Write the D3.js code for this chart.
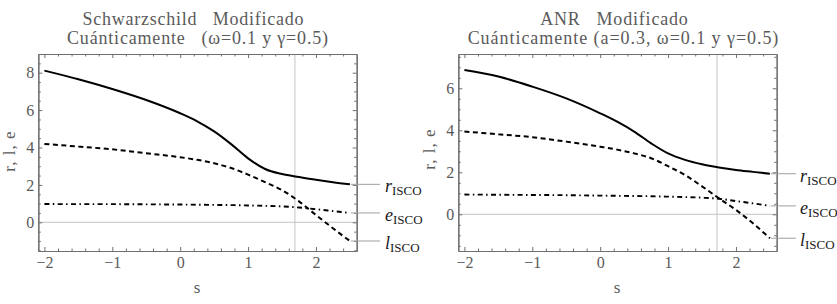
<!DOCTYPE html>
<html>
<head>
<meta charset="utf-8">
<script src="https://cdn.jsdelivr.net/npm/d3@7"></script>
<style>
  html, body { margin: 0; padding: 0; background: #fff; }
  svg { display: block; }
  text { white-space: pre; }
</style>
</head>
<body>
<div id="chart"></div>
<script>
// ── Layout constants (837×304 canvas)
const W = 837, H = 304;
const SERIF = '"Liberation Serif", "Times New Roman", serif';
const TEXT_GRAY = '#5a5a5a';
const FRAME_GRAY = '#707070';

// ── Data
const sValues = [-2, -1.5, -1, -0.5, 0, 0.25, 0.5, 0.75, 1, 1.25, 1.5, 1.75, 2, 2.25, 2.5];

const rSchw = [8.11, 7.65, 7.13, 6.54, 5.83, 5.40, 4.86, 4.18, 3.42, 2.85, 2.58, 2.42, 2.27, 2.14, 2.03];
const lSchw = [4.19, 4.05, 3.90, 3.69, 3.48, 3.34, 3.16, 2.90, 2.55, 2.15, 1.72, 1.12, 0.39, -0.32, -1.0];
const eSchw = [0.98, 0.97, 0.97, 0.96, 0.95, 0.94, 0.93, 0.92, 0.90, 0.88, 0.85, 0.79, 0.70, 0.60, 0.50];

const rAnr = [6.87, 6.56, 6.08, 5.52, 4.81, 4.41, 3.94, 3.38, 2.90, 2.59, 2.38, 2.23, 2.11, 2.02, 1.93];
const lAnr = [3.94, 3.81, 3.67, 3.46, 3.22, 3.08, 2.90, 2.67, 2.29, 1.87, 1.33, 0.76, 0.21, -0.43, -1.14];
const eAnr = [0.94, 0.93, 0.92, 0.91, 0.89, 0.88, 0.87, 0.86, 0.84, 0.82, 0.79, 0.74, 0.63, 0.52, 0.40];

const xMajorTicks = [-2, -1, 0, 1, 2];
const seriesNames = ['r', 'e', 'l'];
const seriesSub = 'ISCO';

const panels = [
  {
    title: ['Schwarzschild   Modificado', 'Cuánticamente   (ω=0.1 y γ=0.5)'],
    titleX: [193, 197.5],
    titleLen: [221, 261],
    left: 38.3, right: 356.7,
    yDomain: [-1.535, 9.0],
    yMajor: [0, 2, 4, 6, 8],
    gridS: 1.69,
    ylabelY: 151,
    r: rSchw, l: lSchw, e: eSchw,
    labelEnd: 380, labelX: 385,
  },
  {
    title: ['ANR   Modificado', 'Cuánticamente (a=0.3, ω=0.1 y γ=0.5)'],
    titleX: [614, 623],
    titleLen: [147.7, 310.7],
    left: 458.3, right: 776.7,
    yDomain: [-1.748, 7.633],
    yMajor: [0, 2, 4, 6],
    gridS: 1.72,
    ylabelY: 149,
    r: rAnr, l: lAnr, e: eAnr,
    labelEnd: 796, labelX: 800,
  },
];

const TOP = 54, BOTTOM = 251;
const X_DOMAIN = [-2.09, 2.6];

const STYLES = {
  r: { dash: null, width: 2 },
  l: { dash: '5,3.5', width: 2 },
  e: { dash: '5,3.4,1.5,3.4', width: 1.9 },
};

const svg = d3.select('#chart').append('svg')
  .attr('width', W).attr('height', H);

function range(a, b, step) {
  const out = [];
  for (let v = a; v <= b + 1e-9; v += step) out.push(+v.toFixed(4));
  return out;
}

const fmt = d3.format('d');

panels.forEach(p => {
  const g = svg.append('g');
  const x = d3.scaleLinear().domain(X_DOMAIN).range([p.left, p.right]);
  const y = d3.scaleLinear().domain(p.yDomain).range([BOTTOM, TOP]);

  const xMinor = range(-2, 2.4, 0.2).filter(v => !xMajorTicks.includes(v));
  const yMinor = range(-1.5, p.yDomain[1], 0.5).filter(v => !p.yMajor.includes(v));

  // gridlines
  g.append('line')
    .attr('x1', x(p.gridS)).attr('x2', x(p.gridS))
    .attr('y1', TOP).attr('y2', BOTTOM)
    .attr('stroke', '#c4c4c4').attr('stroke-width', 1);
  g.append('line')
    .attr('x1', p.left).attr('x2', p.right)
    .attr('y1', y(0)).attr('y2', y(0))
    .attr('stroke', '#c4c4c4').attr('stroke-width', 1);

  // curves
  const line = d3.line()
    .x((d, i) => x(sValues[i]))
    .y(d => y(d))
    .curve(d3.curveMonotoneX);

  ['r', 'l', 'e'].forEach(k => {
    const st = STYLES[k];
    g.append('path')
      .datum(p[k])
      .attr('d', line)
      .attr('fill', 'none')
      .attr('stroke', '#000')
      .attr('stroke-width', st.width)
      .attr('stroke-dasharray', st.dash);
  });

  // frame axes: inward ticks on all four sides
  const styleAxis = sel => {
    sel.select('.domain').attr('stroke', FRAME_GRAY).attr('stroke-width', 1.2);
    sel.selectAll('.tick line').attr('stroke', FRAME_GRAY);
    sel.selectAll('text')
      .attr('fill', TEXT_GRAY)
      .attr('font-family', SERIF)
      .attr('font-size', '16px');
  };

  g.append('g').attr('transform', `translate(0,${BOTTOM})`)
    .call(d3.axisBottom(x).tickValues(xMajorTicks).tickSize(-4).tickSizeOuter(0).tickPadding(6).tickFormat(fmt))
    .call(styleAxis);
  g.append('g').attr('transform', `translate(0,${BOTTOM})`)
    .call(d3.axisBottom(x).tickValues(xMinor).tickSize(-2.5).tickSizeOuter(0).tickFormat(''))
    .call(styleAxis);

  g.append('g').attr('transform', `translate(0,${TOP})`)
    .call(d3.axisTop(x).tickValues(xMajorTicks).tickSize(-4).tickSizeOuter(0).tickFormat(''))
    .call(styleAxis);
  g.append('g').attr('transform', `translate(0,${TOP})`)
    .call(d3.axisTop(x).tickValues(xMinor).tickSize(-2.5).tickSizeOuter(0).tickFormat(''))
    .call(styleAxis);

  g.append('g').attr('transform', `translate(${p.left},0)`)
    .call(d3.axisLeft(y).tickValues(p.yMajor).tickSize(-4).tickSizeOuter(0).tickPadding(4).tickFormat(fmt))
    .call(styleAxis);
  g.append('g').attr('transform', `translate(${p.left},0)`)
    .call(d3.axisLeft(y).tickValues(yMinor).tickSize(-2.5).tickSizeOuter(0).tickFormat(''))
    .call(styleAxis);

  g.append('g').attr('transform', `translate(${p.right},0)`)
    .call(d3.axisRight(y).tickValues(p.yMajor).tickSize(-4).tickSizeOuter(0).tickFormat(''))
    .call(styleAxis);
  g.append('g').attr('transform', `translate(${p.right},0)`)
    .call(d3.axisRight(y).tickValues(yMinor).tickSize(-2.5).tickSizeOuter(0).tickFormat(''))
    .call(styleAxis);

  // titles
  p.title.forEach((t, i) => {
    g.append('text')
      .attr('x', p.titleX[i]).attr('y', 24.5 + i * 19)
      .attr('text-anchor', 'middle')
      .attr('fill', TEXT_GRAY)
      .attr('font-family', SERIF)
      .attr('font-size', '18px')
      .attr('textLength', p.titleLen[i])
      .attr('lengthAdjust', 'spacing')
      .text(t);
  });

  // axis labels
  g.append('text')
    .attr('x', (p.left + p.right) / 2 - 0.5).attr('y', 293)
    .attr('text-anchor', 'middle')
    .attr('fill', TEXT_GRAY)
    .attr('font-family', SERIF)
    .attr('font-size', '17px')
    .text('s');

  g.append('text')
    .attr('transform', `translate(${p.left - 23.5},${p.ylabelY}) rotate(-90)`)
    .attr('text-anchor', 'middle')
    .attr('fill', TEXT_GRAY)
    .attr('font-family', SERIF)
    .attr('font-size', '17px')
    .attr('letter-spacing', '1px')
    .text('r, l, e');

  // curve labels with leader lines
  const lastS = sValues[sValues.length - 1];
  seriesNames.forEach(k => {
    const vy = y(p[k][p[k].length - 1]);
    g.append('line')
      .attr('x1', x(lastS) + 1).attr('x2', p.labelEnd)
      .attr('y1', vy).attr('y2', vy)
      .attr('stroke', '#a0a0a0').attr('stroke-width', 1);
    const t = g.append('text')
      .attr('x', p.labelX).attr('y', vy + 8)
      .attr('fill', '#1a1a1a')
      .attr('font-family', SERIF)
      .attr('font-size', '18px');
    t.append('tspan').attr('font-style', 'italic').text(k);
    t.append('tspan').attr('font-size', '13px').attr('dy', 3).text(seriesSub);
  });
});
</script>
</body>
</html>
